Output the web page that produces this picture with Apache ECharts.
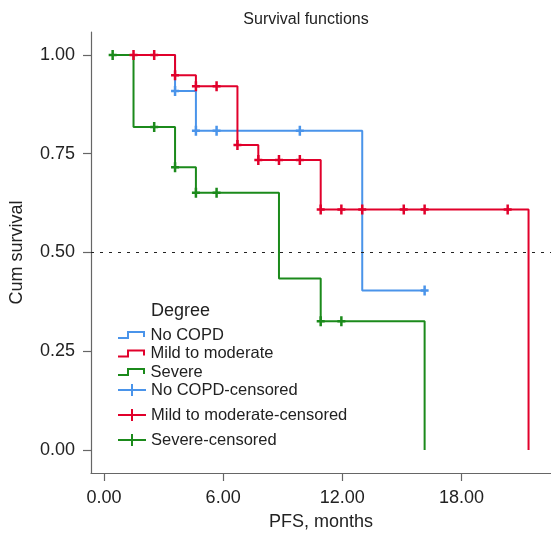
<!DOCTYPE html>
<html><head><meta charset="utf-8">
<script src="https://cdn.jsdelivr.net/npm/echarts@6/dist/echarts.min.js"></script>
<style>html,body{margin:0;padding:0;background:#fff}#c{width:551px;height:542px}</style>
</head><body><div id="c"></div>
<script>
// Tick labels
const xTicks = [0, 6, 12, 18];
const yTicks = [0, 0.25, 0.5, 0.75, 1];
// Survival step curves (time, survival after that time)
const noCopdT = [2.53, 3.58, 4.63, 13.0, 16.14];
const noCopdS = [1, 0.909, 0.808, 0.404, 0.404];
const mildT = [1.49, 3.58, 4.63, 6.72, 7.77, 10.91, 21.37];
const mildS = [1, 0.949, 0.921, 0.772, 0.734, 0.609, 0];
const severeT = [0.44, 1.49, 3.58, 4.63, 8.81, 10.91, 16.14];
const severeS = [1, 0.818, 0.716, 0.651, 0.434, 0.326, 0];
// Censored marks
const noCopdCT = [3.58, 4.63, 5.67, 9.86, 16.14];
const noCopdCS = [0.909, 0.808, 0.808, 0.808, 0.404];
const mildCT = [1.49, 2.53, 3.58, 4.63, 5.67, 6.72, 7.77, 8.81, 9.86, 10.91, 11.95, 13.0, 15.09, 16.14, 20.32];
const mildCS = [1, 1, 0.949, 0.921, 0.921, 0.772, 0.734, 0.734, 0.734, 0.609, 0.609, 0.609, 0.609, 0.609, 0.609];
const severeCT = [0.44, 2.53, 3.58, 4.63, 5.67, 10.91, 11.95];
const severeCS = [1, 0.818, 0.716, 0.651, 0.651, 0.326, 0.326];
const refLine = 0.5;

const names = ['No COPD', 'Mild to moderate', 'Severe'];
const colors = ['#4a94ea', '#e1002b', '#1b8a1b'];
const FONT = 'Liberation Sans, Arial, sans-serif';
const zip = (a, b) => a.map((v, i) => [v, b[i]]);
const stepIcon = 'path://M0,6 H9 V0 H27 V6 H25 V2 H11 V8 H0 Z';
const plusIcon = 'path://M0,5 H13 V0 H15 V5 H28 V7 H15 V12 H13 V7 H0 Z';
const plusMark = 'path://M2.75,0 H5.25 V3.75 H8 V6.25 H5.25 V10 H2.75 V6.25 H0 V3.75 H2.75 Z';

const lines = [[noCopdT, noCopdS], [mildT, mildS], [severeT, severeS]];
const cens = [[noCopdCT, noCopdCS], [mildCT, mildCS], [severeCT, severeCS]];

const series = [];
lines.forEach((l, i) => {
  const s = {
    name: names[i], type: 'line', step: 'end', data: zip(l[0], l[1]),
    showSymbol: false, symbol: 'none', animation: false,
    lineStyle: { color: colors[i], width: 2 }, itemStyle: { color: colors[i] }, z: 2 + i
  };
  if (i === 0) {
    s.markLine = {
      silent: true, symbol: 'none', label: { show: false },
      lineStyle: { color: '#222', type: [3, 6], width: 1.2 },
      data: [{ yAxis: refLine }], animation: false
    };
  }
  series.push(s);
});
cens.forEach((c, i) => {
  series.push({
    name: names[i] + '-censored', type: 'scatter', data: zip(c[0], c[1]),
    symbol: plusMark, symbolSize: [8, 10], animation: false,
    itemStyle: { color: colors[i], opacity: 1 }, z: 6 + i
  });
});

const chart = echarts.init(document.getElementById('c'), null, { renderer: 'canvas' });
chart.setOption({
  backgroundColor: '#fff',
  animation: false,
  textStyle: { fontFamily: FONT },
  title: [{
    text: 'Survival functions', left: 301, top: 7, textAlign: 'center',
    textStyle: { fontFamily: FONT, fontSize: 16, fontWeight: 'normal', color: '#222' }
  }, {
    text: 'Degree', left: 146, top: 297,
    textStyle: { fontFamily: FONT, fontSize: 18, fontWeight: 'normal', color: '#222' }
  }],
  legend: [{
    orient: 'vertical', left: 113, top: 321, itemGap: 0.5, itemWidth: 28, itemHeight: 8,
    textStyle: { fontFamily: FONT, fontSize: 16.5, color: '#222', lineHeight: 18 },
    data: names.map(n => ({ name: n, icon: stepIcon })),
    selectedMode: false
  }, {
    orient: 'vertical', left: 113, top: 376, itemGap: 7, itemWidth: 28, itemHeight: 12,
    textStyle: { fontFamily: FONT, fontSize: 16.5, color: '#222', lineHeight: 18 },
    data: names.map(n => ({ name: n + '-censored', icon: plusIcon })),
    selectedMode: false
  }],
  grid: { left: 88, right: 0, top: 32, bottom: 69, containLabel: false },
  xAxis: {
    type: 'value', min: -0.65, max: 22.5,
    name: 'PFS, months', nameLocation: 'middle', nameGap: 40,
    nameTextStyle: { fontFamily: FONT, fontSize: 18, color: '#222' },
    splitLine: { show: false },
    axisLine: { show: true, onZero: false, lineStyle: { color: '#666', width: 1.2 } },
    axisTick: { show: true, length: 8, customValues: xTicks, lineStyle: { color: '#666', width: 1.2 } },
    axisLabel: { customValues: xTicks, margin: 16, fontFamily: FONT, fontSize: 18, color: '#222',
      formatter: v => Number(v).toFixed(2) }
  },
  yAxis: {
    type: 'value', min: -0.0582, max: 1.0582,
    name: 'Cum survival', nameLocation: 'middle', nameGap: 65,
    nameTextStyle: { fontFamily: FONT, fontSize: 18, color: '#222' },
    splitLine: { show: false },
    axisLine: { show: true, onZero: false, lineStyle: { color: '#666', width: 1.2 } },
    axisTick: { show: true, length: 8, customValues: yTicks, lineStyle: { color: '#666', width: 1.2 } },
    axisLabel: { customValues: yTicks, margin: 16, fontFamily: FONT, fontSize: 18, color: '#222',
      formatter: v => Number(v).toFixed(2) }
  },
  series: series
});
</script>
</body></html>
